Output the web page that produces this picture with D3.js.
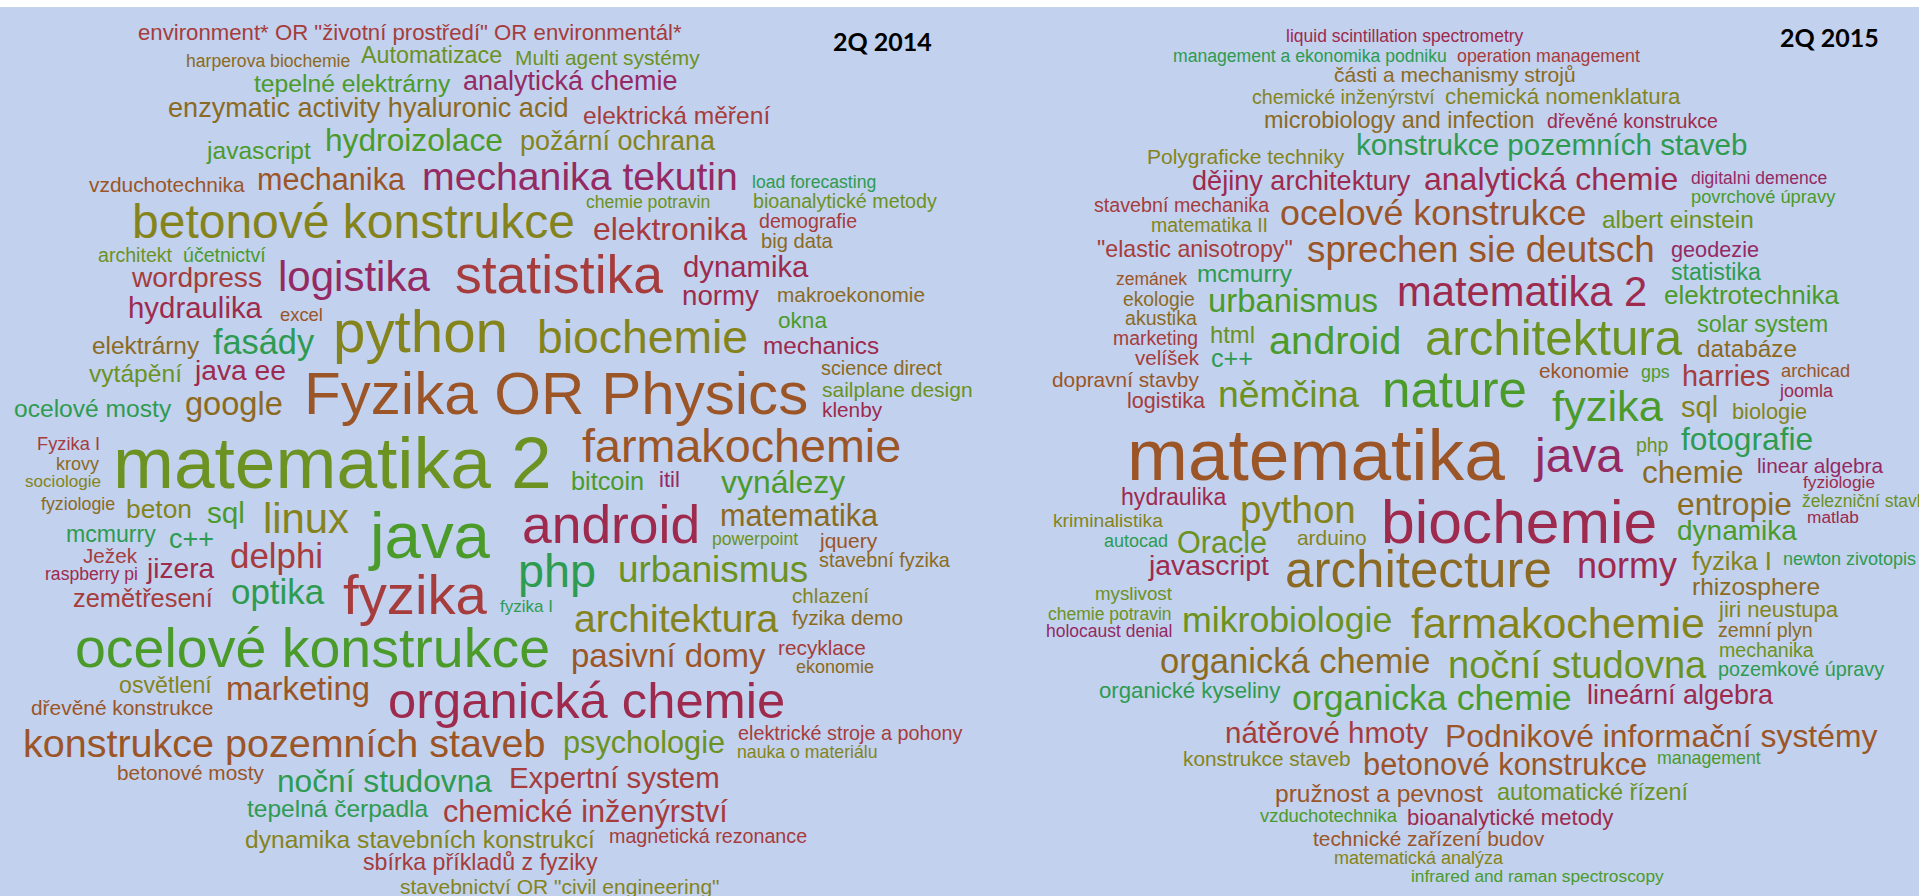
<!DOCTYPE html>
<html>
<head>
<meta charset="utf-8">
<script src="https://cdn.jsdelivr.net/npm/d3@7"></script>
<style>
  body { margin: 0; background: #fff; overflow: hidden; }
  text.term { font-family: "Liberation Sans", Arial, sans-serif; }
  text.title { font-family: Lato, "Open Sans", sans-serif; font-weight: 700; }
</style>
</head>
<body>
<div id="chart"></div>
<script>
// search terms per quarter: [term, weight, cloud x, cloud baseline y, tone group]
const cloud2014 = [
  ['environment* OR "životní prostředí" OR environmentál*', 22.2, 138, 40, 0],
  ["harperova biochemie", 17.6, 186, 67, 4],
  ["Automatizace", 23.3, 361, 63, 6],
  ["Multi agent systémy", 20.9, 515, 65, 6],
  ["tepelné elektrárny", 24.7, 254, 92, 7],
  ["analytická chemie", 27, 463, 90, 2],
  ["enzymatic activity hyaluronic acid", 27.1, 168, 117, 4],
  ["elektrická měření", 24.6, 583, 124, 0],
  ["javascript", 24.6, 207, 159, 7],
  ["hydroizolace", 31.7, 325, 151, 7],
  ["požární ochrana", 27, 520, 150, 5],
  ["vzduchotechnika", 20.9, 89, 192, 3],
  ["mechanika", 30.6, 257, 190, 3],
  ["mechanika tekutin", 39.2, 422, 190, 2],
  ["load forecasting", 17.6, 752, 188, 8],
  ["chemie potravin", 17.6, 586, 208, 6],
  ["bioanalytické metody", 19.7, 753, 208, 6],
  ["betonové konstrukce", 48, 132, 238, 5],
  ["elektronika", 31.9, 593, 240, 0],
  ["demografie", 19.6, 759, 228, 0],
  ["big data", 20.2, 761, 248, 4],
  ["architekt", 19.6, 98, 262, 6],
  ["účetnictví", 19.6, 183, 262, 7],
  ["wordpress", 28.2, 132, 287, 0],
  ["logistika", 42, 278, 291, 2],
  ["statistika", 53.5, 455, 293, 0],
  ["dynamika", 29.3, 683, 277, 1],
  ["normy", 27.7, 682, 305, 1],
  ["makroekonomie", 20.8, 777, 302, 4],
  ["hydraulika", 29.4, 128, 318, 1],
  ["excel", 18.4, 280, 321, 3],
  ["python", 58.3, 333, 352, 5],
  ["biochemie", 46.3, 537, 353, 5],
  ["okna", 22.6, 778, 328, 7],
  ["mechanics", 24.3, 763, 354, 1],
  ["elektrárny", 24.4, 92, 354, 4],
  ["fasády", 34.3, 213, 354, 8],
  ["vytápění", 24.6, 89, 382, 6],
  ["java ee", 28.2, 195, 380, 1],
  ["science direct", 19.8, 821, 375, 4],
  ["sailplane design", 21, 822, 397, 6],
  ["klenby", 20.8, 822, 417, 1],
  ["ocelové mosty", 24.6, 14, 417, 8],
  ["google", 32.6, 185, 415, 4],
  ["Fyzika OR Physics", 60.1, 304, 414, 3],
  ["Fyzika I", 18.3, 37, 450, 0],
  ["krovy", 18, 56, 470, 4],
  ["sociologie", 17.1, 25, 487, 5],
  ["matematika 2", 73.1, 113, 488, 6],
  ["farmakochemie", 46.7, 582, 462, 3],
  ["bitcoin", 25.3, 571, 490, 7],
  ["itil", 22, 659, 487, 2],
  ["vynálezy", 31.9, 721, 493, 7],
  ["fyziologie", 17.8, 41, 510, 4],
  ["beton", 26.4, 126, 518, 5],
  ["sql", 29.7, 207, 523, 7],
  ["linux", 41.8, 263, 533, 5],
  ["java", 65.4, 370, 558, 7],
  ["android", 53.4, 522, 543, 1],
  ["matematika", 30.6, 720, 526, 4],
  ["powerpoint", 17.6, 712, 545, 6],
  ["jquery", 21, 820, 548, 3],
  ["stavební fyzika", 19.8, 819, 567, 4],
  ["mcmurry", 23.1, 66, 542, 8],
  ["c++", 27, 169, 548, 8],
  ["Ježek", 20.7, 83, 563, 0],
  ["raspberry pi", 17.6, 45, 580, 1],
  ["jizera", 28.1, 147, 578, 1],
  ["delphi", 34.9, 230, 568, 0],
  ["php", 46.8, 518, 587, 8],
  ["urbanismus", 36.8, 618, 582, 6],
  ["zemětřesení", 25.4, 73, 607, 0],
  ["optika", 34.9, 231, 604, 8],
  ["fyzika", 56.3, 343, 614, 0],
  ["fyzika I", 17, 500, 612, 8],
  ["chlazení", 20.7, 792, 603, 5],
  ["architektura", 39.1, 574, 632, 5],
  ["fyzika demo", 20.8, 792, 625, 4],
  ["ocelové konstrukce", 55.5, 75, 667, 7],
  ["pasivní domy", 33, 571, 667, 3],
  ["recyklace", 20.8, 778, 655, 0],
  ["ekonomie", 18, 796, 673, 4],
  ["organická chemie", 50.7, 388, 718, 1],
  ["osvětlení", 23.2, 119, 693, 5],
  ["marketing", 32.8, 226, 700, 3],
  ["dřevěné konstrukce", 20.9, 31, 715, 3],
  ["konstrukce pozemních staveb", 39.5, 23, 757, 3],
  ["psychologie", 30.7, 563, 753, 6],
  ["elektrické stroje a pohony", 19.8, 738, 740, 0],
  ["nauka o materiálu", 17.7, 737, 758, 5],
  ["betonové mosty", 20.8, 117, 780, 3],
  ["noční studovna", 31.7, 277, 792, 8],
  ["Expertní system", 29.4, 509, 788, 0],
  ["tepelná čerpadla", 24.5, 247, 817, 8],
  ["chemické inženýrství", 30.7, 443, 822, 0],
  ["dynamika stavebních konstrukcí", 24.6, 245, 848, 5],
  ["magnetická rezonance", 19.7, 609, 843, 0],
  ["sbírka příkladů z fyziky", 23.2, 363, 870, 0],
  ['stavebnictví OR "civil engineering"', 21, 400, 894, 5]
];

const cloud2015 = [
  ["liquid scintillation spectrometry", 17.5, 326, 42, 1],
  ["management a ekonomika podniku", 17.6, 213, 62, 8],
  ["operation management", 17.8, 497, 62, 0],
  ["části a mechanismy strojů", 21, 374, 82, 4],
  ["chemické inženýrství", 19.7, 292, 104, 5],
  ["chemická nomenklatura", 22.3, 485, 104, 5],
  ["microbiology and infection", 23.4, 304, 128, 4],
  ["dřevěné konstrukce", 19.6, 587, 128, 1],
  ["Polygraficke techniky", 21, 187, 164, 5],
  ["konstrukce pozemních staveb", 29.6, 396, 155, 8],
  ["dějiny architektury", 27.1, 232, 190, 1],
  ["analytická chemie", 32, 464, 190, 1],
  ["digitalni demence", 17.5, 731, 184, 2],
  ["povrchové úpravy", 18.3, 731, 203, 7],
  ["stavební mechanika", 19.7, 134, 212, 0],
  ["matematika II", 19.5, 191, 232, 5],
  ["ocelové konstrukce", 35.8, 320, 225, 3],
  ["albert einstein", 24.4, 642, 228, 6],
  ['"elastic anisotropy"', 23.2, 137, 257, 0],
  ["sprechen sie deutsch", 36.8, 347, 262, 3],
  ["geodezie", 21.7, 711, 257, 2],
  ["statistika", 23.1, 711, 280, 8],
  ["zemánek", 17.5, 156, 285, 3],
  ["mcmurry", 24.4, 237, 282, 8],
  ["matematika 2", 41.7, 437, 306, 1],
  ["elektrotechnika", 26, 704, 304, 7],
  ["ekologie", 19.3, 163, 306, 4],
  ["urbanismus", 32.9, 248, 312, 7],
  ["akustika", 19.6, 165, 325, 4],
  ["marketing", 19.4, 153, 345, 0],
  ["html", 23.8, 250, 343, 6],
  ["android", 39.7, 309, 354, 7],
  ["architektura", 49.2, 465, 355, 6],
  ["solar system", 23.4, 737, 332, 7],
  ["databáze", 24.3, 737, 357, 4],
  ["velíšek", 20.6, 175, 365, 0],
  ["c++", 25.2, 251, 367, 8],
  ["dopravní stavby", 20.8, 92, 387, 3],
  ["ekonomie", 20.8, 579, 378, 3],
  ["gps", 17.8, 681, 378, 7],
  ["harries", 28.9, 722, 386, 0],
  ["archicad", 18.3, 821, 377, 3],
  ["joomla", 18, 820, 397, 1],
  ["logistika", 21.6, 167, 408, 0],
  ["němčina", 37.3, 258, 407, 6],
  ["nature", 51.1, 422, 407, 7],
  ["fyzika", 43.4, 592, 421, 7],
  ["sql", 29, 721, 417, 5],
  ["biologie", 21.8, 772, 419, 5],
  ["matematika", 73.1, 167, 480, 3],
  ["java", 48, 575, 472, 2],
  ["php", 19.4, 676, 452, 6],
  ["fotografie", 31.7, 721, 450, 8],
  ["chemie", 31.5, 682, 483, 4],
  ["linear algebra", 20.8, 797, 473, 2],
  ["fyziologie", 17.3, 843, 488, 1],
  ["železniční stavby", 17.5, 842, 507, 6],
  ["matlab", 17.3, 847, 523, 1],
  ["hydraulika", 23.1, 161, 505, 1],
  ["python", 38.6, 280, 523, 5],
  ["biochemie", 60.6, 421, 543, 1],
  ["entropie", 31.8, 717, 515, 4],
  ["kriminalistika", 19.2, 93, 527, 5],
  ["autocad", 18, 144, 547, 8],
  ["Oracle", 30.6, 217, 553, 6],
  ["arduino", 20.9, 337, 545, 5],
  ["dynamika", 28, 717, 540, 7],
  ["javascript", 28.4, 189, 575, 1],
  ["architecture", 51.1, 325, 587, 4],
  ["normy", 36, 617, 578, 1],
  ["fyzika I", 25.7, 732, 570, 5],
  ["newton zivotopis", 18, 823, 565, 8],
  ["rhizosphere", 24.5, 732, 595, 4],
  ["myslivost", 18.7, 135, 600, 6],
  ["chemie potravin", 17.5, 88, 620, 6],
  ["holocaust denial", 17.5, 86, 637, 2],
  ["mikrobiologie", 35.7, 222, 632, 6],
  ["farmakochemie", 43, 451, 638, 5],
  ["jiri neustupa", 22.1, 759, 617, 5],
  ["zemní plyn", 19.6, 758, 637, 4],
  ["mechanika", 19.6, 759, 657, 6],
  ["pozemkové úpravy", 19.8, 758, 676, 8],
  ["organická chemie", 34.5, 200, 673, 4],
  ["noční studovna", 38.1, 488, 678, 6],
  ["organické kyseliny", 22.2, 139, 698, 8],
  ["organicka chemie", 35.7, 332, 710, 7],
  ["lineární algebra", 27, 627, 704, 1],
  ["nátěrové hmoty", 29.5, 265, 743, 0],
  ["Podnikové informační systémy", 31.9, 485, 747, 3],
  ["konstrukce staveb", 20.8, 223, 766, 5],
  ["betonové konstrukce", 30.8, 403, 775, 3],
  ["management", 17.8, 697, 764, 7],
  ["pružnost a pevnost", 24.6, 315, 802, 3],
  ["automatické řízení", 23.4, 537, 800, 6],
  ["vzduchotechnika", 18.4, 300, 822, 7],
  ["bioanalytické metody", 22.1, 447, 825, 1],
  ["technické zařízení budov", 20.9, 353, 846, 3],
  ["matematická analýza", 18, 374, 864, 5],
  ["infrared and raman spectroscopy", 17.3, 451, 882, 7]
];

const quarters = ["2Q 2014", "2Q 2015"];
const clouds = [cloud2014, cloud2015];
const tones = ["#a63c3c", "#9e2a4d", "#952a63", "#9b5527", "#8c6a22",
               "#85841c", "#6c9222", "#4b9b2b", "#2e9b50"];

const width = 1919, height = 896, panelW = 960;

const svg = d3.select("#chart").append("svg")
  .attr("width", width)
  .attr("height", height);

svg.append("rect").attr("width", width).attr("height", height).attr("fill", "#fff");
svg.append("rect")
  .attr("y", 7)
  .attr("width", width)
  .attr("height", height - 7)
  .attr("fill", "#c1d1ee");

let y = d3.scaleLinear().domain([0, height]).range([0, height]);
let size = d3.scaleLinear().domain([10, 80]).range([10, 80]);
let tone = d3.scaleOrdinal().domain(d3.range(tones.length)).range(tones);

clouds.forEach((cloud, i) => {
  let x = d3.scaleLinear().domain([0, panelW]).range([i * panelW, (i + 1) * panelW]);

  let g = svg.append("g").attr("class", "cloud");

  g.selectAll("text.term")
    .data(cloud)
    .join("text")
    .attr("class", "term")
    .attr("x", d => x(d[2]))
    .attr("y", d => y(d[3]))
    .attr("font-size", d => size(d[1]))
    .attr("fill", d => tone(d[4]))
    .text(d => d[0]);

  // quarter label, top right of each cloud
  g.append("text")
    .attr("class", "title")
    .attr("x", x(i == 0 ? 833 : 820))
    .attr("y", y(i == 0 ? 51 : 47))
    .attr("font-size", 25)
    .attr("fill", "#000")
    .text(quarters[i]);
});
</script>
</body>
</html>
